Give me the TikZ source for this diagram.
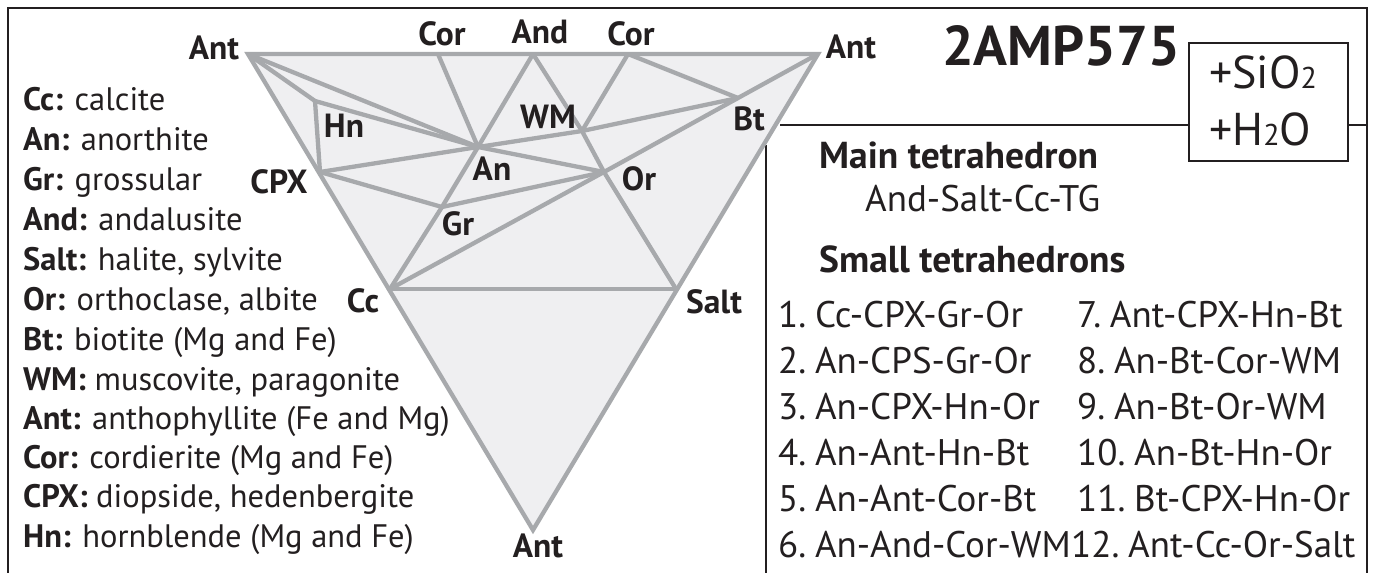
\documentclass[tikz,border=0pt]{standalone}
\usepackage{fontspec}
\setmainfont{PT Sans}
\definecolor{ink}{HTML}{231F20}
\definecolor{lgray}{HTML}{A7A9AC}
\definecolor{tfill}{HTML}{EFEFF1}
\newcommand{\nsp}{\hspace{-0.12em}}
\begin{document}
\begin{tikzpicture}[x=1pt,y=-1pt,
  tri/.style={draw=lgray, line width=4.3pt},
  frm/.style={draw=ink, line width=2.6pt},
  vlab/.style={font=\fontsize{33.5}{38}\selectfont\bfseries, text=ink, inner sep=0pt, anchor=base},
  leg/.style={font=\fontsize{32.5}{38}\selectfont, text=ink, inner sep=0pt, anchor=base west},
  head/.style={font=\fontsize{37.5}{42}\selectfont\bfseries, text=ink, inner sep=0pt, anchor=base west},
  lst/.style={font=\fontsize{37}{42}\selectfont, text=ink, inner sep=0pt, anchor=base west},
  chem/.style={font=\fontsize{46}{52}\selectfont, text=ink, inner sep=0pt, anchor=base west}
]
\useasboundingbox (0,0) rectangle (1374,573);
\fill[white] (0,0) rectangle (1374,573);

% frame
\draw[frm] (8,580) -- (8,8) -- (1367,8) -- (1367,580);
\draw[frm] (766,145) -- (766,580);
\draw[frm] (780,125) -- (1189,125);
\draw[frm] (1348,125) -- (1367,125);
\draw[frm, line width=2.4pt] (1189,43) rectangle (1348,161);

% vertices
\coordinate (TL) at (248,54);
\coordinate (TR) at (818,54);
\coordinate (B) at (533,530);
\coordinate (Cor1) at (438,54);
\coordinate (And) at (533,54);
\coordinate (Cor2) at (628,54);
\coordinate (Hn) at (315,101);
\coordinate (CPX) at (320,172);
\coordinate (An) at (478,147);
\coordinate (Gr) at (442,207);
\coordinate (WM) at (582,131);
\coordinate (Or) at (604,172);
\coordinate (Bt) at (738,98);
\coordinate (Cc) at (390,289);
\coordinate (Salt) at (676,289);

\fill[tfill] (TL) -- (TR) -- (B) -- cycle;
\draw[tri] (Cc) -- (Salt);
\draw[tri] (TL) -- (Hn) -- (CPX);
\draw[tri] (TL) -- (An);
\draw[tri] (Hn) -- (An);
\draw[tri] (CPX) -- (An) -- (WM) -- (Bt);
\draw[tri] (CPX) -- (Gr) -- (Or);
\draw[tri] (Cor1) -- (An);
\draw[tri] (And) -- (An) -- (Gr) -- (Cc);
\draw[tri] (An) -- (Or);
\draw[tri] (And) -- (WM) -- (Or) -- (Salt);
\draw[tri] (Cor2) -- (WM);
\draw[tri] (Cor2) -- (Bt);
\draw[tri] (Cc) -- (Or) -- (Bt) -- (TR);
\draw[tri] (TL) -- (TR) -- (B) -- cycle;

% vertex labels
\node[vlab] (lAnt1) at (214,59) {Ant};
\node[vlab] (lCor1) at (442,45) {Cor};
\node[vlab] (lAnd) at (540,43) {And};
\node[vlab] (lCor2) at (631,45) {Cor};
\node[vlab] (lAnt2) at (851,58) {Ant};
\node[vlab] (lHn) at (344,137) {Hn};
\node[vlab] (lWM) at (548,128) {WM};
\node[vlab] (lAn) at (492,180) {An};
\node[vlab] (lCPX) at (279,193) {CPX};
\node[vlab] (lGr) at (458,235) {Gr};
\node[vlab] (lOr) at (639,190) {Or};
\node[vlab] (lBt) at (749,130) {Bt};
\node[vlab] (lCc) at (363,312) {Cc};
\node[vlab] (lSalt) at (714,313) {Salt};
\node[vlab] (lAnt3) at (538,557) {Ant};

% legend
\node[leg] (g1) at (23,110) {\textbf{Cc:} calcite};
\node[leg] (g2) at (23,150) {\textbf{An:} anorthite};
\node[leg] (g3) at (23,190) {\textbf{Gr:} grossular};
\node[leg] (g4) at (23,230) {\textbf{And:} andalusite};
\node[leg] (g5) at (23,270) {\textbf{Salt:} halite, sylvite};
\node[leg] (g6) at (23,310) {\textbf{Or:} orthoclase, albite};
\node[leg] (g7) at (23,350) {\textbf{Bt:} biotite (Mg and Fe)};
\node[leg] (g8) at (23,390) {\textbf{WM:} muscovite, paragonite};
\node[leg] (g9) at (23,429) {\textbf{Ant:} anthophyllite (Fe and Mg)};
\node[leg] (g10) at (23,468) {\textbf{Cor:} cordierite (Mg and Fe)};
\node[leg] (g11) at (23,507) {\textbf{CPX:} diopside, hedenbergite};
\node[leg] (g12) at (23,547) {\textbf{Hn:} hornblende (Mg and Fe)};

% right panel
\node[font=\fontsize{56}{62}\selectfont\bfseries, text=ink, inner sep=0pt, anchor=base west] (title) at (942,65) {2AMP575};
\node[chem] (si) at (1209,88) {+SiO{\fontsize{30}{34}\selectfont 2}};
\node[chem] (ho) at (1209,145) {+H{\fontsize{30}{34}\selectfont 2}O};
\node[head] (main) at (819,168) {Main tetrahedron};
\node[leg, font=\fontsize{37}{42}\selectfont] (mainv) at (865,211) {And-Salt-Cc-TG};
\node[head] (small) at (819,272) {Small tetrahedrons};

\node[lst] (s1) at (778,327) {1.\nsp{} Cc-CPX-Gr-Or};
\node[lst] (s2) at (778,373) {2.\nsp{} An-CPS-Gr-Or};
\node[lst] (s3) at (778,419) {3.\nsp{} An-CPX-Hn-Or};
\node[lst] (s4) at (778,465) {4.\nsp{} An-Ant-Hn-Bt};
\node[lst] (s5) at (778,511) {5.\nsp{} An-Ant-Cor-Bt};
\node[lst] (s6) at (778,557) {6.\nsp{} An-And-Cor-WM};
\node[lst] (s7) at (1077,327) {7.\nsp{} Ant-CPX-Hn-Bt};
\node[lst] (s8) at (1077,373) {8.\nsp{} An-Bt-Cor-WM};
\node[lst] (s9) at (1077,419) {9.\nsp{} An-Bt-Or-WM};
\node[lst] (s10) at (1077,465) {10.\nsp{} An-Bt-Hn-Or};
\node[lst] (s11) at (1077,511) {11.\nsp{} Bt-CPX-Hn-Or};
\node[lst] (s12) at (s6.base east) {12.\nsp{} Ant-Cc-Or-Salt};
\end{tikzpicture}
\end{document}
